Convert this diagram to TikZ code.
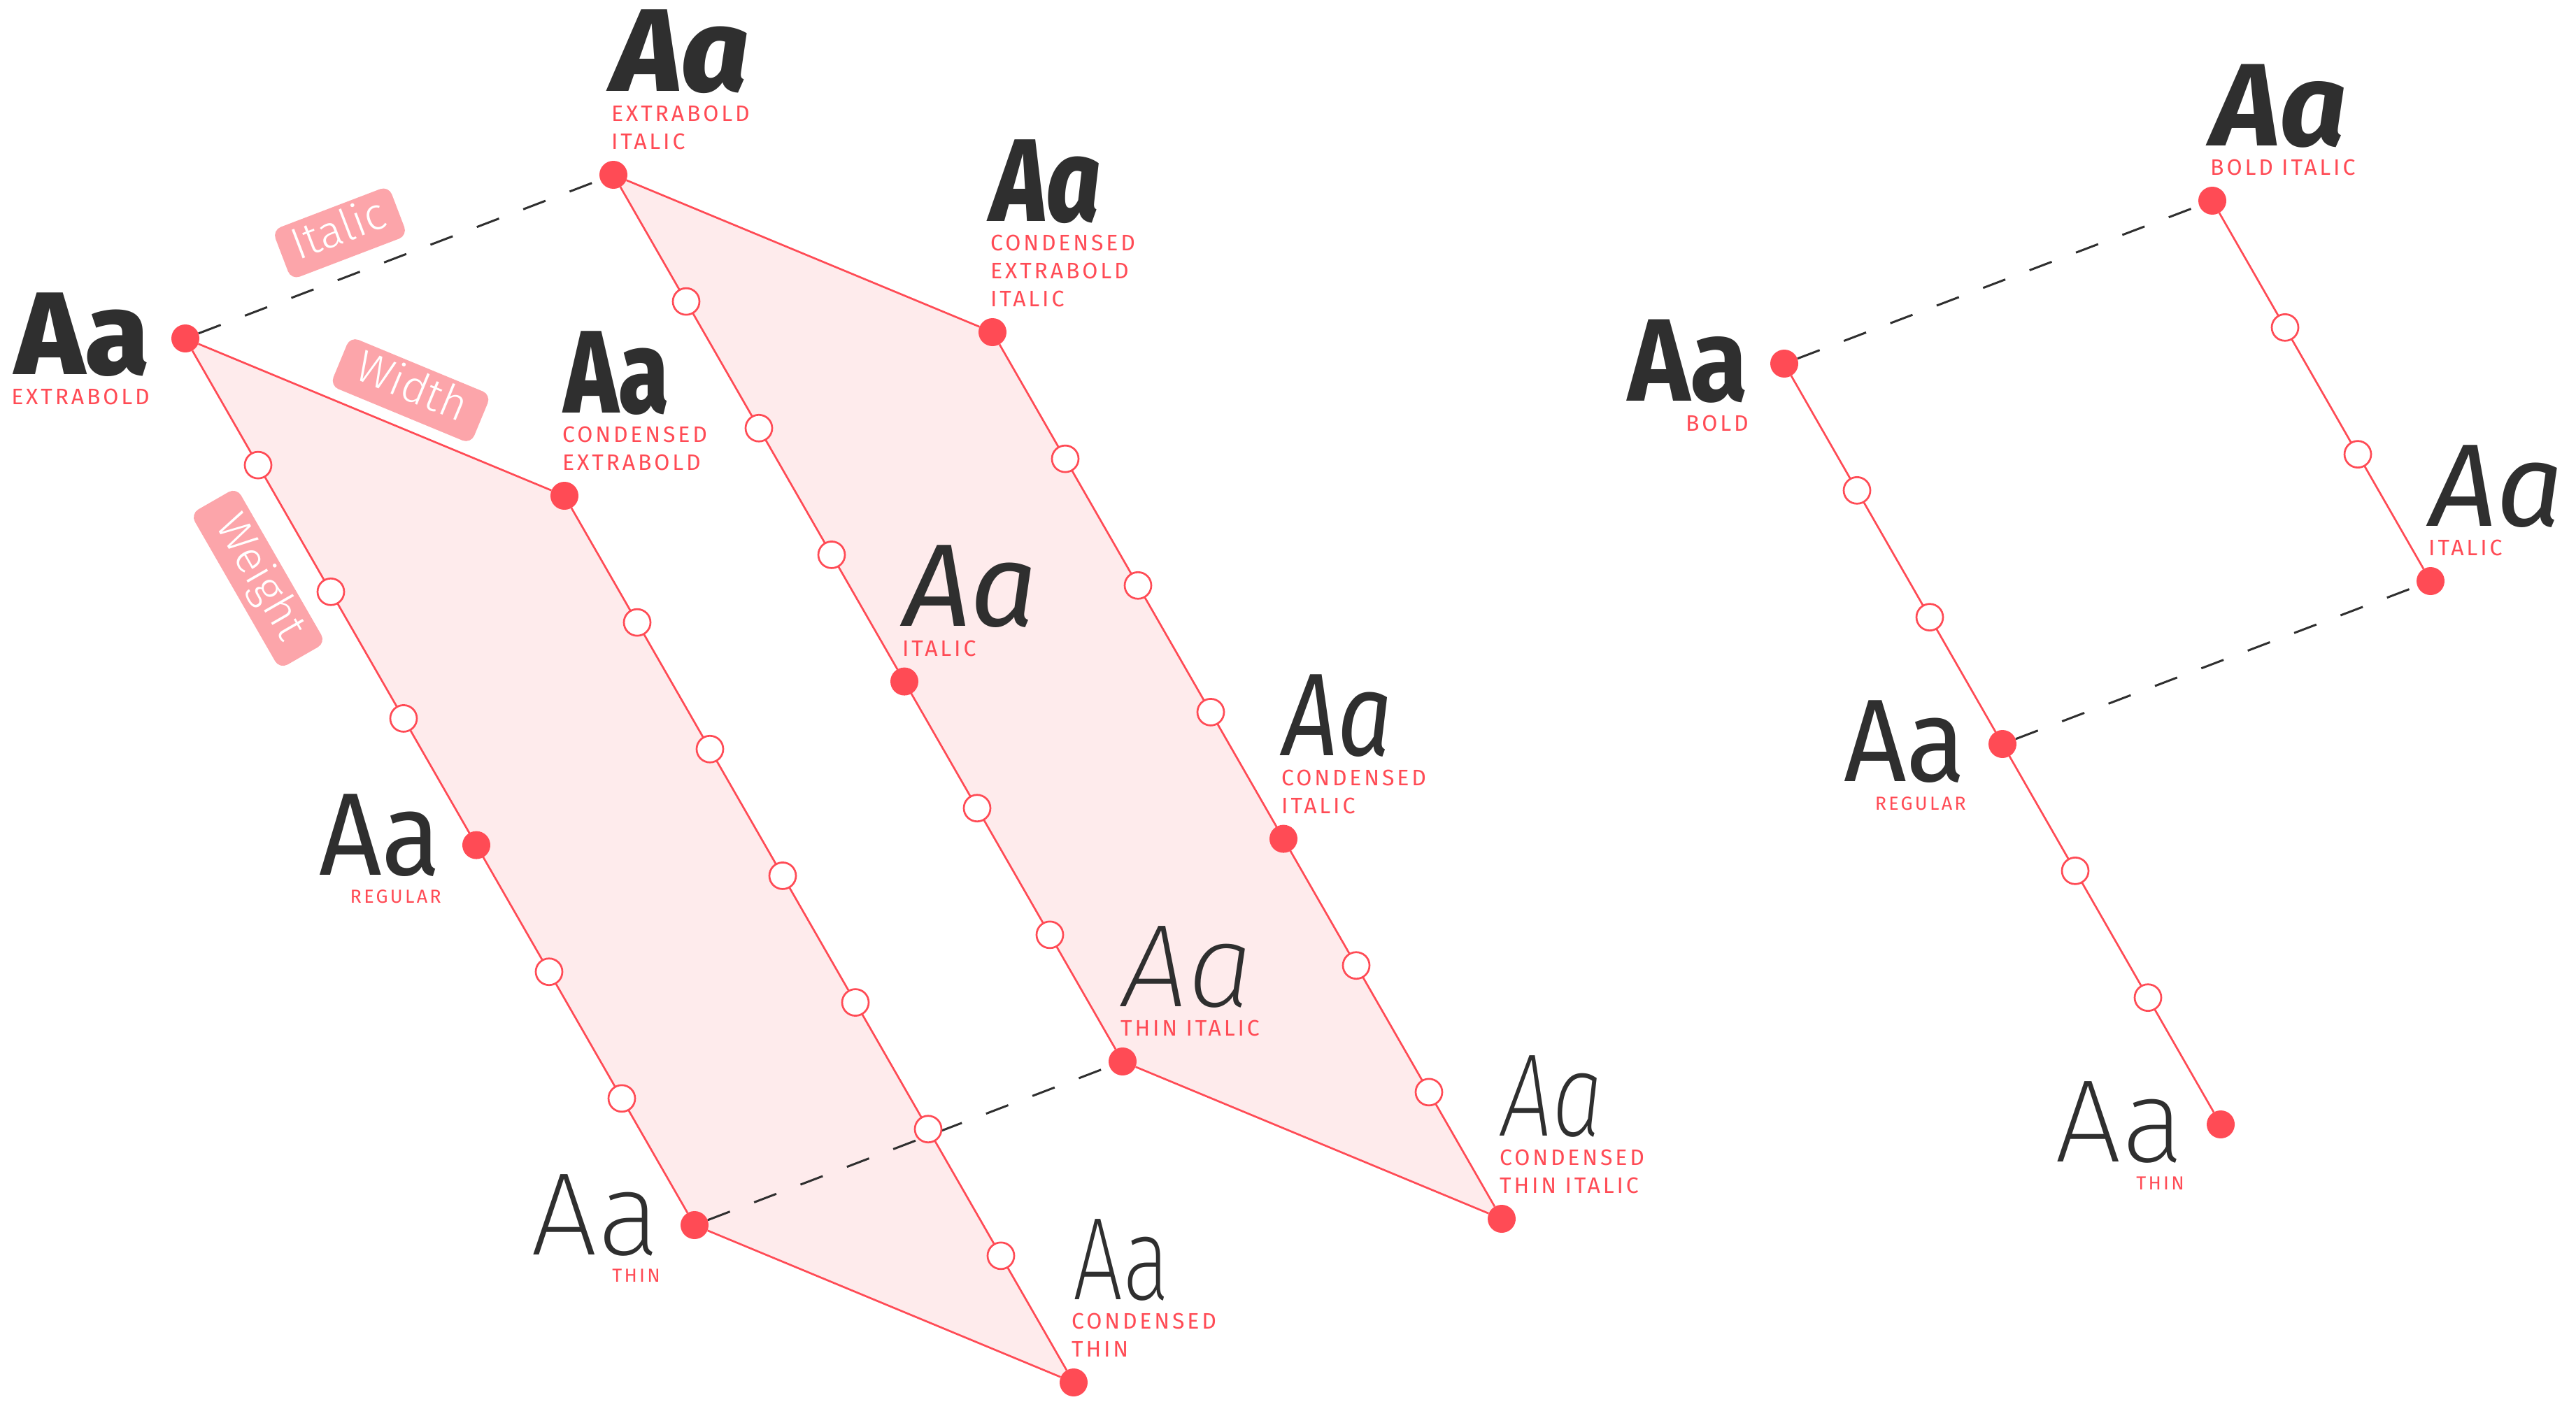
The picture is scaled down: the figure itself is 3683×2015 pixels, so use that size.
\documentclass[tikz,border=0pt]{standalone}
\usepackage{fontspec}
\setmainfont{Fira Sans}
\newfontfamily\fEB{Fira Sans ExtraBold}
\newfontfamily\fEBI{Fira Sans ExtraBold Italic}
\newfontfamily\fCEB{Fira Sans ExtraBold}[FakeStretch=0.78]
\newfontfamily\fCEBI{Fira Sans ExtraBold Italic}[FakeStretch=0.8]
\newfontfamily\fB{Fira Sans Bold}[FakeStretch=0.9]
\newfontfamily\fBI{Fira Sans Bold Italic}
\newfontfamily\fR{Fira Sans}[FakeStretch=0.93]
\newfontfamily\fI{Fira Sans Italic}
\newfontfamily\fCI{Fira Sans Italic}[FakeStretch=0.82]
\newfontfamily\fT{Fira Sans ExtraLight}
\newfontfamily\fTI{Fira Sans ExtraLight Italic}
\newfontfamily\fCT{Fira Sans ExtraLight}[FakeStretch=0.75]
\newfontfamily\fCTI{Fira Sans ExtraLight Italic}[FakeStretch=0.78]
\newfontfamily\fL{Fira Sans Light}
\newfontfamily\fLbl{Fira Sans}[LetterSpace=12]
\usetikzlibrary{calc,backgrounds}
\definecolor{cred}{HTML}{FF4B55}
\definecolor{cfill}{HTML}{FEEBEC}
\definecolor{cdark}{HTML}{2F2F2F}
\definecolor{cbox}{HTML}{FCA5AA}
\begin{document}
\begin{tikzpicture}[x=1pt,y=-1pt,
 dotf/.style={circle,fill=cred,inner sep=0,minimum size=40pt},
 doto/.style={circle,fill=white,draw=cred,line width=2.7pt,inner sep=0,minimum size=38pt},
 edgeline/.style={draw=cred,line width=2.7pt},
 dashline/.style={draw=cdark,line width=3pt,dash pattern=on 34pt off 37pt},
 polyfill/.style={fill=cfill},
 aa/.style={inner sep=0,text=cdark,font=\fontsize{168}{168}\selectfont},
 lbl/.style={inner sep=0,text=cred,align=left,text depth=0pt,font=\fLbl\fontsize{32}{40}\selectfont},
 lblsm/.style={inner sep=0,text=cred,font=\fLbl\fontsize{27}{33}\selectfont},
 axisbox/.style={fill=cbox,rounded corners=13pt,text=white,inner sep=0,minimum height=76pt,text height=44pt,text depth=13pt,font=\fL\fontsize{64}{64}\selectfont},
]
\useasboundingbox (0,0) rectangle (3683,2015);

% ---------- left group: main dots ----------
\node[dotf] (eb)   at (265,484)  {};
\node[dotf] (ceb)  at (807,709)  {};
\node[dotf] (ebi)  at (877,250)  {};
\node[dotf] (cebi) at (1419,475) {};
\node[dotf] (thin) at (993,1752) {};
\node[dotf] (ct)   at (1535,1977) {};
\node[dotf] (ti)   at (1605,1518) {};
\node[dotf] (cti)  at (2147,1743) {};
\node[dotf] (reg)   at ($(eb)!4/7!(thin)$) {};
\node[dotf] (ital)  at ($(ebi)!4/7!(ti)$) {};
\node[dotf] (cital) at ($(cebi)!4/7!(cti)$) {};

% open circles
\foreach \k in {1,2,3,5,6} {
  \node[doto] (w\k) at ($(eb)!\k/7!(thin)$) {};
  \node[doto] (wi\k) at ($(ebi)!\k/7!(ti)$) {};
  \node[doto] (wci\k) at ($(cebi)!\k/7!(cti)$) {};
}
\foreach \k in {1,...,6} {
  \node[doto] (wc\k) at ($(ceb)!\k/7!(ct)$) {};
}

% ---------- right group ----------
\node[dotf] (b)     at (2551,520)  {};
\node[dotf] (bi)    at (3163,287)  {};
\node[dotf] (thin2) at (3175,1608) {};
\node[dotf] (reg2)  at ($(b)!1/2!(thin2)$) {};
\node[dotf] (ital2) at ($(bi)+(reg2)-(b)$) {};
\foreach \k in {1,2,4,5} {
  \node[doto] (r\k) at ($(b)!\k/6!(thin2)$) {};
}
\foreach \k in {1,2} {
  \node[doto] (ri\k) at ($(bi)!\k/3!(ital2)$) {};
}

% ---------- texts: left-placed ----------
\node[aa,anchor=base east] (eb-a) at ([shift={(-51,51)}]eb) {\fEB Aa};
\node[lbl,anchor=base east] (eb-l) at ([shift={(-51,94)}]eb) {EXTRABOLD};
\node[aa,anchor=base east] (reg-a) at ([shift={(-50,43)}]reg) {\fR Aa};
\node[lblsm,anchor=base east] (reg-l) at ([shift={(-50,83)}]reg) {REGULAR};
\node[aa,anchor=base east] (thin-a) at ([shift={(-49,42)}]thin) {\fT Aa};
\node[lblsm,anchor=base east] (thin-l) at ([shift={(-49,81)}]thin) {THIN};
\node[aa,anchor=base east] (b-a) at ([shift={(-51,53)}]b) {\fB Aa};
\node[lbl,anchor=base east] (b-l) at ([shift={(-51,96)}]b) {BOLD};
\node[aa,anchor=base east] (reg2-a) at ([shift={(-52,53)}]reg2) {\fR Aa};
\node[lblsm,anchor=base east] (reg2-l) at ([shift={(-52,94)}]reg2) {REGULAR};
\node[aa,anchor=base east] (thin2-a) at ([shift={(-52,53)}]thin2) {\fT Aa};
\node[lblsm,anchor=base east] (thin2-l) at ([shift={(-52,93)}]thin2) {THIN};

% ---------- texts: right-placed ----------
\node[lbl,anchor=south west] (ebi-l) at ([shift={(-3,-36)}]ebi) {EXTRABOLD\\ITALIC};
\node[aa,anchor=base west] (ebi-a) at ([shift={(-1,-119)}]ebi) {\fEBI Aa};
\node[lbl,anchor=south west] (ceb-l) at ([shift={(-3,-36)}]ceb) {CONDENSED\\EXTRABOLD};
\node[aa,anchor=base west] (ceb-a) at ([shift={(-1,-119)}]ceb) {\fCEB Aa};
\node[lbl,anchor=south west] (cebi-l) at ([shift={(-3,-36)}]cebi) {CONDENSED\\EXTRABOLD\\ITALIC};
\node[aa,anchor=base west] (cebi-a) at ([shift={(-1,-159)}]cebi) {\fCEBI Aa};
\node[lbl,anchor=south west] (ital-l) at ([shift={(-3,-36)}]ital) {ITALIC};
\node[aa,anchor=base west] (ital-a) at ([shift={(-1,-79)}]ital) {\fI Aa};
\node[lbl,anchor=south west] (cital-l) at ([shift={(-3,-36)}]cital) {CONDENSED\\ITALIC};
\node[aa,anchor=base west] (cital-a) at ([shift={(-1,-119)}]cital) {\fCI Aa};
\node[lbl,anchor=south west] (ti-l) at ([shift={(-3,-36)}]ti) {THIN ITALIC};
\node[aa,anchor=base west] (ti-a) at ([shift={(-1,-79)}]ti) {\fTI Aa};
\node[lbl,anchor=south west] (ct-l) at ([shift={(-3,-36)}]ct) {CONDENSED\\THIN};
\node[aa,anchor=base west] (ct-a) at ([shift={(-1,-119)}]ct) {\fCT Aa};
\node[lbl,anchor=south west] (cti-l) at ([shift={(-3,-36)}]cti) {CONDENSED\\THIN ITALIC};
\node[aa,anchor=base west] (cti-a) at ([shift={(-1,-119)}]cti) {\fCTI Aa};
\node[lbl,anchor=south west] (bi-l) at ([shift={(-3,-36)}]bi) {BOLD ITALIC};
\node[aa,anchor=base west] (bi-a) at ([shift={(-1,-79)}]bi) {\fBI Aa};
\node[lbl,anchor=south west] (ital2-l) at ([shift={(-3,-36)}]ital2) {ITALIC};
\node[aa,anchor=base west] (ital2-a) at ([shift={(-1,-79)}]ital2) {\fI Aa};

% ---------- axis tags ----------
\node[axisbox,minimum width=178pt,rotate=20.9] (ax-i) at (486,333) {Italic};
\node[axisbox,minimum width=218pt,rotate=-22.5] (ax-w) at (587,558) {Width};
\node[axisbox,minimum width=256pt,rotate=-60.1] (ax-h) at (369,827) {Weight};

% ---------- fills and lines (behind) ----------
\begin{pgfonlayer}{background}
  \path[polyfill] (eb.center) -- (ceb.center) -- (ct.center) -- (thin.center) -- cycle;
  \path[polyfill] (ebi.center) -- (cebi.center) -- (cti.center) -- (ti.center) -- cycle;
  \draw[edgeline] (eb) -- (ceb);
  \draw[edgeline] (eb) -- (thin);
  \draw[edgeline] (ceb) -- (ct);
  \draw[edgeline] (thin) -- (ct);
  \draw[edgeline] (ebi) -- (cebi);
  \draw[edgeline] (ebi) -- (ti);
  \draw[edgeline] (cebi) -- (cti);
  \draw[edgeline] (ti) -- (cti);
  \draw[edgeline] (b) -- (thin2);
  \draw[edgeline] (bi) -- (ital2);
  \draw[dashline] (eb) -- (ebi);
  \draw[dashline] (thin) -- (ti);
  \draw[dashline] (b) -- (bi);
  \draw[dashline] (reg2) -- (ital2);
\end{pgfonlayer}
\end{tikzpicture}
\end{document}
